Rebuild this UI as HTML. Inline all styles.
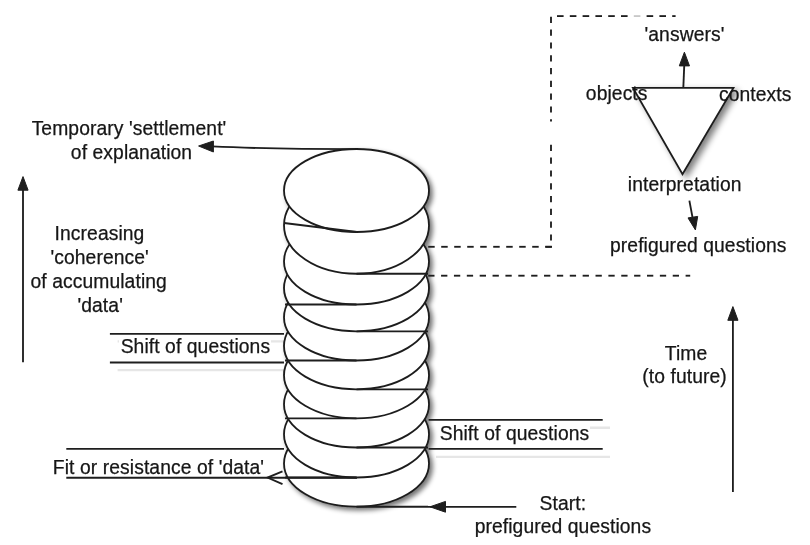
<!DOCTYPE html>
<html><head><meta charset="utf-8"><style>
html,body{margin:0;padding:0;background:#fff;width:810px;height:545px;overflow:hidden}
svg{display:block}
text{font-family:"Liberation Sans",sans-serif;font-size:19.3px;letter-spacing:0.09px;fill:#161616;stroke:#161616;stroke-width:0.25px}
</style></head><body>
<svg width="810" height="545" viewBox="0 0 810 545">
<defs>
<filter id="sh" x="-20%" y="-20%" width="140%" height="140%">
<feGaussianBlur in="SourceAlpha" stdDeviation="2.4"/>
<feOffset dx="3" dy="3" result="b"/>
<feComponentTransfer><feFuncA type="linear" slope="0.55"/></feComponentTransfer>
<feMerge><feMergeNode/><feMergeNode in="SourceGraphic"/></feMerge>
</filter>
<filter id="nop" x="0" y="0" width="100%" height="100%"><feOffset dx="0" dy="0"/></filter>
<filter id="tsh" x="-20%" y="-20%" width="140%" height="140%">
<feGaussianBlur in="SourceAlpha" stdDeviation="3"/>
<feOffset dx="4" dy="3" result="b"/>
<feComponentTransfer><feFuncA type="linear" slope="0.5"/></feComponentTransfer>
<feMerge><feMergeNode/><feMergeNode in="SourceGraphic"/></feMerge>
</filter>
</defs>
<rect width="810" height="545" fill="#fff"/>

<line x1="117.6" y1="341.40000000000003" x2="292" y2="341.40000000000003" stroke="#e6e6e6" stroke-width="2.4" />
<line x1="117.6" y1="370.1" x2="292" y2="370.1" stroke="#e6e6e6" stroke-width="2.4" />
<rect x="119" y="337" width="152" height="19" fill="#fff"/>
<line x1="436" y1="427.8" x2="610" y2="427.8" stroke="#e6e6e6" stroke-width="2.4" />
<line x1="436" y1="456.9" x2="610" y2="456.9" stroke="#e6e6e6" stroke-width="2.4" />
<rect x="434" y="423" width="156" height="19" fill="#fff"/>
<g filter="url(#sh)">
<ellipse cx="356.5" cy="463.50" rx="72.5" ry="43.2" fill="#fff" stroke="#1e1e1e" stroke-width="1.85"/>
<ellipse cx="356.5" cy="434.30" rx="72.5" ry="43.2" fill="#fff" stroke="#1e1e1e" stroke-width="1.85"/>
<ellipse cx="356.5" cy="404.30" rx="72.5" ry="43.2" fill="#fff" stroke="#1e1e1e" stroke-width="1.85"/>
<ellipse cx="356.5" cy="375.20" rx="72.5" ry="43.2" fill="#fff" stroke="#1e1e1e" stroke-width="1.85"/>
<ellipse cx="356.5" cy="346.10" rx="72.5" ry="43.2" fill="#fff" stroke="#1e1e1e" stroke-width="1.85"/>
<ellipse cx="356.5" cy="317.30" rx="72.5" ry="43.2" fill="#fff" stroke="#1e1e1e" stroke-width="1.85"/>
<ellipse cx="356.5" cy="288.10" rx="72.5" ry="43.2" fill="#fff" stroke="#1e1e1e" stroke-width="1.85"/>
<ellipse cx="356.5" cy="261.30" rx="72.5" ry="43.2" fill="#fff" stroke="#1e1e1e" stroke-width="1.85"/>
<ellipse cx="356.5" cy="225.20" rx="72.5" ry="48.5" fill="#fff" stroke="#1e1e1e" stroke-width="1.85"/>
<ellipse cx="356.5" cy="190.50" rx="72.5" ry="41.5" fill="#fff" stroke="#1e1e1e" stroke-width="1.85"/>
</g>
<line x1="284" y1="223" x2="357" y2="232" stroke="#1e1e1e" stroke-width="1.85" />
<line x1="356.5" y1="273.7" x2="428" y2="273.7" stroke="#1e1e1e" stroke-width="1.85" />
<line x1="285" y1="304.5" x2="356.5" y2="304.5" stroke="#1e1e1e" stroke-width="1.85" />
<line x1="356.5" y1="331.3" x2="428" y2="331.3" stroke="#1e1e1e" stroke-width="1.85" />
<line x1="285" y1="360.5" x2="356.5" y2="360.5" stroke="#1e1e1e" stroke-width="1.85" />
<line x1="356.5" y1="389.3" x2="428" y2="389.3" stroke="#1e1e1e" stroke-width="1.85" />
<line x1="285" y1="418.4" x2="356.5" y2="418.4" stroke="#1e1e1e" stroke-width="1.85" />
<line x1="356.5" y1="447.5" x2="428" y2="447.5" stroke="#1e1e1e" stroke-width="1.85" />
<line x1="285" y1="477.5" x2="356.5" y2="477.5" stroke="#1e1e1e" stroke-width="1.85" />
<line x1="356.5" y1="506.7" x2="428" y2="506.7" stroke="#1e1e1e" stroke-width="1.85" />
<path d="M357 149.1 C300 149.1 265 148.9 212 146.4" stroke="#1e1e1e" stroke-width="1.85" fill="none"/>
<path d="M198.6 146 L213.4 141 L213.4 152 Z" fill="#1e1e1e" stroke="#1e1e1e" stroke-width="1" stroke-linejoin="miter"/>
<line x1="23" y1="362.2" x2="23" y2="188" stroke="#1e1e1e" stroke-width="1.85" />
<path d="M23 176.6 L17.9 190.2 L28.1 190.2 Z" fill="#1e1e1e" stroke="#1e1e1e" stroke-width="1" stroke-linejoin="miter"/>
<line x1="109.9" y1="333.8" x2="284" y2="333.8" stroke="#1e1e1e" stroke-width="1.85" />
<line x1="109.9" y1="362.5" x2="284" y2="362.5" stroke="#1e1e1e" stroke-width="1.85" />
<line x1="428.6" y1="419.8" x2="602.7" y2="419.8" stroke="#1e1e1e" stroke-width="1.85" />
<line x1="428.6" y1="448.9" x2="602.7" y2="448.9" stroke="#1e1e1e" stroke-width="1.85" />
<line x1="66.3" y1="448.8" x2="284" y2="448.8" stroke="#1e1e1e" stroke-width="1.85" />
<line x1="66.3" y1="477.7" x2="357" y2="477.7" stroke="#1e1e1e" stroke-width="1.85" />
<path d="M282.5 471.3 L267.5 477.6 L282.5 484.2" stroke="#1e1e1e" stroke-width="1.85" fill="none"/>
<line x1="428" y1="506.8" x2="516.3" y2="506.8" stroke="#1e1e1e" stroke-width="1.85" />
<path d="M430 506.8 L445.5 501.4 L445.5 512.2 Z" fill="#1e1e1e" stroke="#1e1e1e" stroke-width="1" stroke-linejoin="miter"/>
<line x1="428.2" y1="246.8" x2="434.7" y2="246.8" stroke="#1e1e1e" stroke-width="1.85" />
<line x1="441.2" y1="246.8" x2="447.7" y2="246.8" stroke="#1e1e1e" stroke-width="1.85" />
<line x1="454.2" y1="246.8" x2="460.7" y2="246.8" stroke="#1e1e1e" stroke-width="1.85" />
<line x1="467.2" y1="246.8" x2="473.7" y2="246.8" stroke="#1e1e1e" stroke-width="1.85" />
<line x1="480.2" y1="246.8" x2="486.7" y2="246.8" stroke="#1e1e1e" stroke-width="1.85" />
<line x1="493.2" y1="246.8" x2="499.7" y2="246.8" stroke="#1e1e1e" stroke-width="1.85" />
<line x1="506.2" y1="246.8" x2="512.7" y2="246.8" stroke="#1e1e1e" stroke-width="1.85" />
<line x1="519.2" y1="246.8" x2="525.7" y2="246.8" stroke="#1e1e1e" stroke-width="1.85" />
<line x1="532.2" y1="246.8" x2="538.7" y2="246.8" stroke="#1e1e1e" stroke-width="1.85" />
<line x1="545.2" y1="246.8" x2="551.7" y2="246.8" stroke="#1e1e1e" stroke-width="1.85" />
<line x1="545.4" y1="246.8" x2="552" y2="246.8" stroke="#1e1e1e" stroke-width="1.85" />
<line x1="551" y1="240.6" x2="551" y2="234.4" stroke="#1e1e1e" stroke-width="1.85" />
<line x1="551" y1="227.8" x2="551" y2="221.6" stroke="#1e1e1e" stroke-width="1.85" />
<line x1="551" y1="215.0" x2="551" y2="208.8" stroke="#1e1e1e" stroke-width="1.85" />
<line x1="551" y1="202.2" x2="551" y2="196.0" stroke="#1e1e1e" stroke-width="1.85" />
<line x1="551" y1="189.4" x2="551" y2="183.2" stroke="#1e1e1e" stroke-width="1.85" />
<line x1="551" y1="176.6" x2="551" y2="170.4" stroke="#1e1e1e" stroke-width="1.85" />
<line x1="551" y1="163.8" x2="551" y2="157.6" stroke="#1e1e1e" stroke-width="1.85" />
<line x1="551" y1="151.0" x2="551" y2="144.8" stroke="#1e1e1e" stroke-width="1.85" />
<line x1="551" y1="112.6" x2="551" y2="106.4" stroke="#1e1e1e" stroke-width="1.85" />
<line x1="551" y1="99.8" x2="551" y2="93.6" stroke="#1e1e1e" stroke-width="1.85" />
<line x1="551" y1="87.0" x2="551" y2="80.8" stroke="#1e1e1e" stroke-width="1.85" />
<line x1="551" y1="74.2" x2="551" y2="68.0" stroke="#1e1e1e" stroke-width="1.85" />
<line x1="551" y1="61.4" x2="551" y2="55.2" stroke="#1e1e1e" stroke-width="1.85" />
<line x1="551" y1="48.6" x2="551" y2="42.4" stroke="#1e1e1e" stroke-width="1.85" />
<line x1="551" y1="35.8" x2="551" y2="29.6" stroke="#1e1e1e" stroke-width="1.85" />
<line x1="551" y1="23.0" x2="551" y2="16.8" stroke="#1e1e1e" stroke-width="1.85" />
<line x1="551" y1="121.4" x2="551" y2="119.2" stroke="#1e1e1e" stroke-width="1.85" />
<line x1="557" y1="16.1" x2="563.6" y2="16.1" stroke="#1e1e1e" stroke-width="1.85" />
<line x1="569.8" y1="16.1" x2="576.4" y2="16.1" stroke="#1e1e1e" stroke-width="1.85" />
<line x1="582.6" y1="16.1" x2="589.2" y2="16.1" stroke="#1e1e1e" stroke-width="1.85" />
<line x1="595.4" y1="16.1" x2="602.0" y2="16.1" stroke="#1e1e1e" stroke-width="1.85" />
<line x1="608.2" y1="16.1" x2="614.8" y2="16.1" stroke="#1e1e1e" stroke-width="1.85" />
<line x1="621.0" y1="16.1" x2="627.6" y2="16.1" stroke="#1e1e1e" stroke-width="1.85" />
<line x1="633.8" y1="16.1" x2="640.4" y2="16.1" stroke="#c8c8c8" stroke-width="1.85" />
<line x1="646.6" y1="16.1" x2="653.2" y2="16.1" stroke="#1e1e1e" stroke-width="1.85" />
<line x1="659.4" y1="16.1" x2="666.0" y2="16.1" stroke="#1e1e1e" stroke-width="1.85" />
<line x1="672.2" y1="16.1" x2="675.6" y2="16.1" stroke="#1e1e1e" stroke-width="1.85" />
<line x1="428.2" y1="275.7" x2="434.5" y2="275.7" stroke="#1e1e1e" stroke-width="1.85" />
<line x1="441.07" y1="275.7" x2="447.37" y2="275.7" stroke="#1e1e1e" stroke-width="1.85" />
<line x1="453.94" y1="275.7" x2="460.24" y2="275.7" stroke="#1e1e1e" stroke-width="1.85" />
<line x1="466.81" y1="275.7" x2="473.11" y2="275.7" stroke="#1e1e1e" stroke-width="1.85" />
<line x1="479.68" y1="275.7" x2="485.98" y2="275.7" stroke="#1e1e1e" stroke-width="1.85" />
<line x1="492.55" y1="275.7" x2="498.85" y2="275.7" stroke="#1e1e1e" stroke-width="1.85" />
<line x1="505.42" y1="275.7" x2="511.72" y2="275.7" stroke="#1e1e1e" stroke-width="1.85" />
<line x1="518.29" y1="275.7" x2="524.59" y2="275.7" stroke="#1e1e1e" stroke-width="1.85" />
<line x1="531.16" y1="275.7" x2="537.46" y2="275.7" stroke="#1e1e1e" stroke-width="1.85" />
<line x1="544.03" y1="275.7" x2="550.33" y2="275.7" stroke="#1e1e1e" stroke-width="1.85" />
<line x1="556.9" y1="275.7" x2="563.2" y2="275.7" stroke="#1e1e1e" stroke-width="1.85" />
<line x1="569.77" y1="275.7" x2="576.07" y2="275.7" stroke="#1e1e1e" stroke-width="1.85" />
<line x1="582.64" y1="275.7" x2="588.94" y2="275.7" stroke="#1e1e1e" stroke-width="1.85" />
<line x1="595.51" y1="275.7" x2="601.81" y2="275.7" stroke="#1e1e1e" stroke-width="1.85" />
<line x1="608.38" y1="275.7" x2="614.68" y2="275.7" stroke="#1e1e1e" stroke-width="1.85" />
<line x1="621.25" y1="275.7" x2="627.55" y2="275.7" stroke="#1e1e1e" stroke-width="1.85" />
<line x1="634.12" y1="275.7" x2="640.42" y2="275.7" stroke="#1e1e1e" stroke-width="1.85" />
<line x1="646.99" y1="275.7" x2="653.29" y2="275.7" stroke="#1e1e1e" stroke-width="1.85" />
<line x1="659.86" y1="275.7" x2="666.16" y2="275.7" stroke="#1e1e1e" stroke-width="1.85" />
<line x1="672.73" y1="275.7" x2="679.03" y2="275.7" stroke="#1e1e1e" stroke-width="1.85" />
<line x1="685.6" y1="275.7" x2="690.2" y2="275.7" stroke="#1e1e1e" stroke-width="1.85" />
<g filter="url(#tsh)"><path d="M633 87.9 L733.4 87.9 L682.5 174.1 Z" fill="#fff" stroke="#1e1e1e" stroke-width="1.85" stroke-linejoin="miter"/></g>
<line x1="683.3" y1="87.9" x2="684.3" y2="64" stroke="#1e1e1e" stroke-width="1.85" />
<path d="M684.4 52.2 L679.3 65.9 L689.5 65.9 Z" fill="#1e1e1e" stroke="#1e1e1e" stroke-width="1" stroke-linejoin="miter"/>
<line x1="689.4" y1="200.6" x2="693" y2="220" stroke="#1e1e1e" stroke-width="1.85" />
<path d="M695.4 229.9 L688 217.9 L697.7 216.4 Z" fill="#1e1e1e" stroke="#1e1e1e" stroke-width="1" stroke-linejoin="miter"/>
<line x1="732.9" y1="492" x2="732.9" y2="318" stroke="#1e1e1e" stroke-width="1.85" />
<path d="M732.9 306.6 L727.8 320.3 L738 320.3 Z" fill="#1e1e1e" stroke="#1e1e1e" stroke-width="1" stroke-linejoin="miter"/>
<g filter="url(#nop)">
<text x="129" y="135.3" text-anchor="middle">Temporary 'settlement'</text>
<text x="131.5" y="159.4" text-anchor="middle">of explanation</text>
<text x="99.5" y="240.0" text-anchor="middle">Increasing</text>
<text x="99.7" y="264.0" text-anchor="middle">'coherence'</text>
<text x="98.7" y="288.0" text-anchor="middle">of accumulating</text>
<text x="100.2" y="311.6" text-anchor="middle">'data'</text>
<text x="195.4" y="353.1" text-anchor="middle">Shift of questions</text>
<text x="514.5" y="439.8" text-anchor="middle">Shift of questions</text>
<text x="158.5" y="474.3" text-anchor="middle">Fit or resistance of 'data'</text>
<text x="562.9" y="509.5" text-anchor="middle">Start:</text>
<text x="562.9" y="532.9" text-anchor="middle">prefigured questions</text>
<text x="684.5" y="41.2" text-anchor="middle">'answers'</text>
<text x="616.7" y="99.7" text-anchor="middle">objects</text>
<text x="755.2" y="101.0" text-anchor="middle">contexts</text>
<text x="684.7" y="191.2" text-anchor="middle">interpretation</text>
<text x="698.3" y="252.2" text-anchor="middle">prefigured questions</text>
<text x="686" y="359.5" text-anchor="middle">Time</text>
<text x="684.6" y="382.5" text-anchor="middle">(to future)</text>
</g>
</svg></body></html>
